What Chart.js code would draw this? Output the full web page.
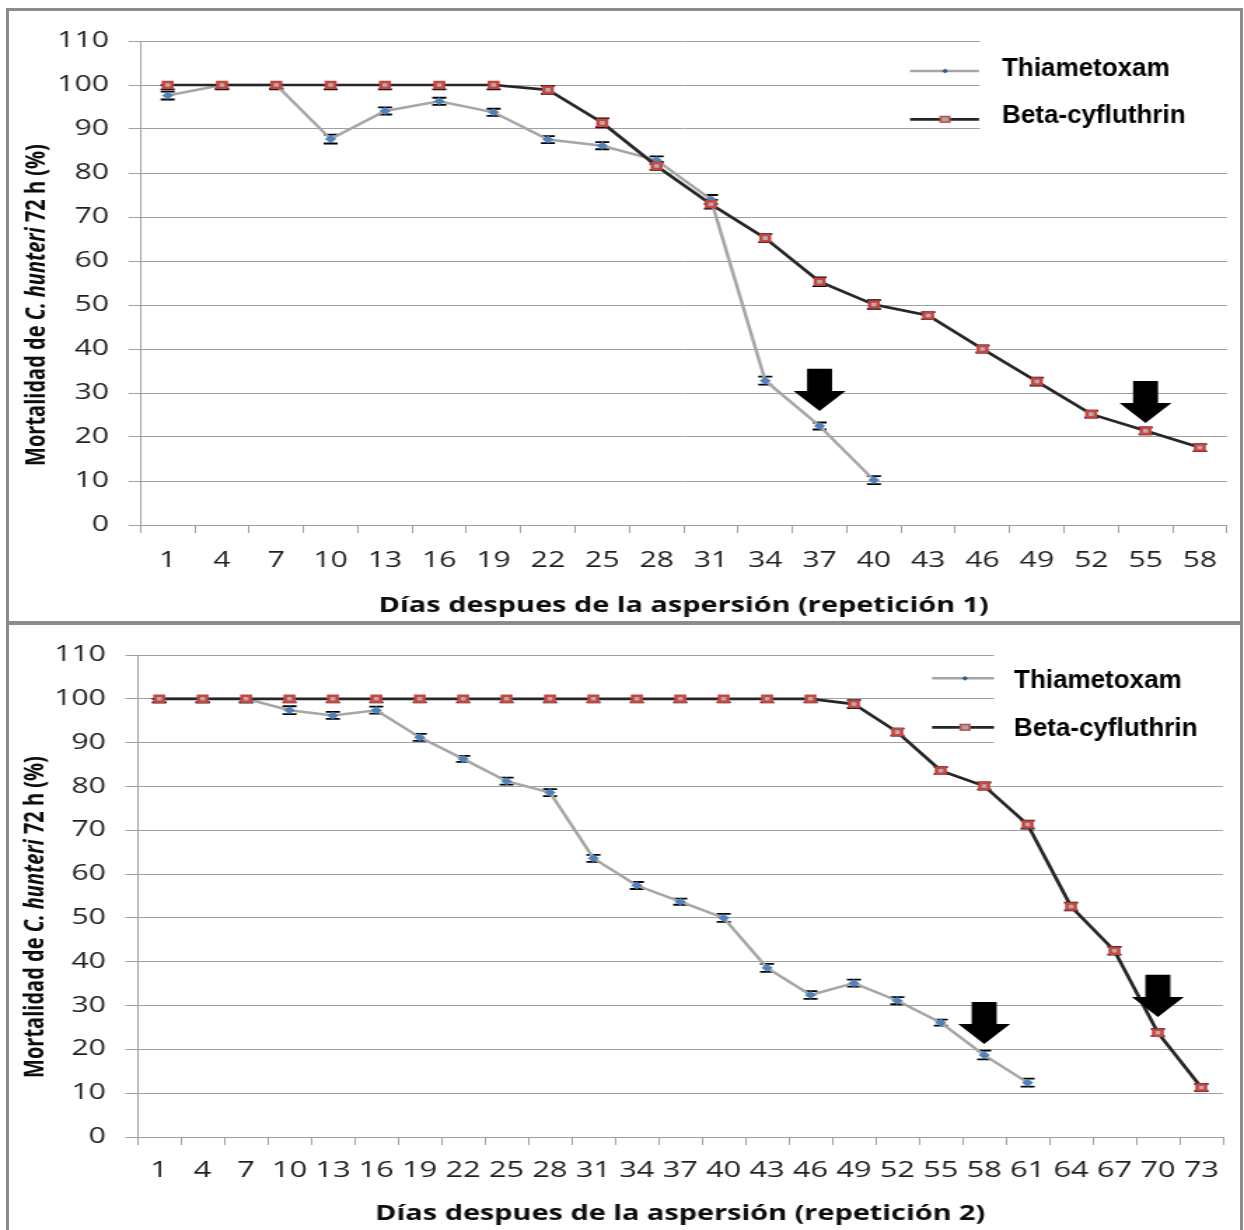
<!DOCTYPE html>
<html>
<head>
<meta charset="utf-8">
<script src="https://cdn.jsdelivr.net/npm/chart.js@4.4.1/dist/chart.umd.min.js"></script>
<style>
html,body{margin:0;padding:0;background:#fff;}
#page{position:relative;width:1244px;height:1230px;overflow:hidden;background:#fff;}
.wrap{position:absolute;left:0;transform-origin:0 0;}
.wrap canvas{display:block;}
.frame{position:absolute;background:#8c8c8c;z-index:5;}
</style>
</head>
<body>
<div id="page">
  <div class="wrap" id="w1" style="top:0px"><canvas id="c1" width="888" height="622"></canvas></div>
  <div class="wrap" id="w2" style="top:622px"><canvas id="c2" width="888" height="608"></canvas></div>
  <div class="frame" style="left:6px;top:8px;width:3px;height:1222px"></div>
  <div class="frame" style="left:6px;top:8px;width:1237px;height:3px"></div>
  <div class="frame" style="left:1240px;top:8px;width:3px;height:1222px"></div>
  <div class="frame" style="left:6px;top:621px;width:1237px;height:4px"></div>
</div>
<script>
// ---------------- data ----------------
const daysRep1 = ['1','4','7','10','13','16','19','22','25','28','31','34','37','40','43','46','49','52','55','58'];
const thiametoxamRep1 = [97.6,100,100,87.7,94.1,96.3,93.8,87.6,86.2,82.9,74.0,32.8,22.5,10.2,null,null,null,null,null,null];
const betaRep1 = [100,100,100,100,100,100,100,98.9,91.4,81.6,72.9,65.2,55.3,50.1,47.6,40.0,32.6,25.2,21.4,17.6];
const thiametoxamErrRep1 = [0.9,0.8,0.8,1.0,0.8,0.8,0.8,0.8,0.8,0.9,1.0,0.9,0.8,0.9,null,null,null,null,null,null];
const betaErrRep1 = [1.0,1.0,1.0,1.0,1.0,1.0,1.0,0.9,1.0,0.9,1.0,0.9,1.0,1.0,0.8,0.8,0.9,0.8,0.8,0.8];

const daysRep2 = ['1','4','7','10','13','16','19','22','25','28','31','34','37','40','43','46','49','52','55','58','61','64','67','70','73'];
const thiametoxamRep2 = [100,100,100,97.4,96.2,97.4,91.2,86.3,81.2,78.6,63.6,57.4,53.7,50.0,38.6,32.4,35.1,31.1,26.1,18.7,12.4,null,null,null,null];
const betaRep2 = [100,100,100,100,100,100,100,100,100,100,100,100,100,100,100,100,98.8,92.4,83.6,80.1,71.3,52.6,42.5,23.8,11.3];
const thiametoxamErrRep2 = [0.8,0.8,0.8,0.9,0.8,0.8,0.8,0.7,0.8,0.8,0.8,0.8,0.7,0.9,0.9,0.9,0.8,0.8,0.7,1.0,0.9,null,null,null,null];
const betaErrRep2 = [0.8,0.8,0.8,0.8,0.8,0.8,0.8,0.8,0.8,0.8,0.8,0.8,0.8,0.8,0.8,0.8,0.9,0.8,0.8,0.8,0.9,0.9,0.9,0.8,0.8];

const yTicks = [0,10,20,30,40,50,60,70,80,90,100,110];

// arrows marking points (category, start value, tip value)
const arrowsRep1 = [{day:'37', from:35.5, to:25.9}, {day:'55', from:32.7, to:23.2}];
const arrowsRep2 = [{day:'58', from:30.8, to:21.2}, {day:'70', from:37.0, to:27.4}];

const seriesNames = ['Thiametoxam', 'Beta-cyfluthrin'];

// ---------------- layout ----------------
const K = 1244 / 888;   // horizontal stretch of the original picture
const ix = px => px / K;

function buildChart(canvasId, wrapId, labels, thia, beta, thiaErr, betaErr, arrows, L) {
  document.getElementById(wrapId).style.transform = 'scaleX(' + K + ')';
  const canvas = document.getElementById(canvasId);
  const W = canvas.width, H = canvas.height;

  const decoPlugin = {
    id: 'deco_' + canvasId,
    beforeDatasetsDraw(chart) {
      const ctx = chart.ctx;
      const ys = chart.scales.y;
      ctx.save();
      ctx.fillStyle = '#fff';
      ctx.fillRect(ix(L.box.x0), L.box.y0, ix(L.box.x1) - ix(L.box.x0), L.box.y1 - L.box.y0);
      ctx.restore();
      ctx.save();
      ctx.strokeStyle = '#000';
      chart.data.datasets.forEach((ds, i) => {
        const meta = chart.getDatasetMeta(i);
        ds.errors.forEach((e, j) => {
          const v = ds.data[j];
          if (v === null || e === null) return;
          const x = meta.data[j].x;
          const yHi = ys.getPixelForValue(Math.min(v + e, 100));
          const yLo = ys.getPixelForValue(v - e);
          const hw = 5;
          ctx.lineWidth = 1;
          ctx.beginPath(); ctx.moveTo(x, yHi); ctx.lineTo(x, yLo); ctx.stroke();
          ctx.lineWidth = 1.8;
          ctx.beginPath();
          ctx.moveTo(x - hw, yHi); ctx.lineTo(x + hw, yHi);
          ctx.moveTo(x - hw, yLo); ctx.lineTo(x + hw, yLo);
          ctx.stroke();
        });
      });
      ctx.restore();
    },
    afterDatasetsDraw(chart) {
      const ctx = chart.ctx;
      const xs = chart.scales.x, ys = chart.scales.y;
      ctx.save();
      ctx.fillStyle = '#000';
      arrows.forEach(a => {
        const x = xs.getPixelForValue(labels.indexOf(a.day));
        const y0 = ys.getPixelForValue(a.from);
        const y1 = ys.getPixelForValue(a.to);
        const headH = 20, sw = ix(12.5), hw = ix(26);
        ctx.beginPath();
        ctx.moveTo(x - sw, y0);
        ctx.lineTo(x + sw, y0);
        ctx.lineTo(x + sw, y1 - headH);
        ctx.lineTo(x + hw, y1 - headH);
        ctx.lineTo(x, y1);
        ctx.lineTo(x - hw, y1 - headH);
        ctx.lineTo(x - sw, y1 - headH);
        ctx.closePath();
        ctx.fill();
      });
      ctx.restore();
    },
    afterDraw(chart) {
      const ctx = chart.ctx;
      const items = [
        {name: seriesNames[0], y: L.leg.y1, base: L.leg.b1, color: '#a6a6a6', lw: 2.5, marker: 'diamond'},
        {name: seriesNames[1], y: L.leg.y2, base: L.leg.b2, color: '#262626', lw: 2.7, marker: 'square'}
      ];
      items.forEach(it => {
        ctx.save();
        ctx.strokeStyle = it.color; ctx.lineWidth = it.lw;
        ctx.beginPath(); ctx.moveTo(ix(L.leg.x0), it.y); ctx.lineTo(ix(L.leg.x1), it.y); ctx.stroke();
        const mx = ix(L.leg.mx);
        if (it.marker === 'diamond') {
          ctx.fillStyle = '#2f5b8f';
          ctx.beginPath();
          ctx.moveTo(mx - 2.2, it.y); ctx.lineTo(mx, it.y - 2.4); ctx.lineTo(mx + 2.2, it.y); ctx.lineTo(mx, it.y + 2.4);
          ctx.closePath(); ctx.fill();
        } else {
          ctx.fillStyle = '#a6a6a6';
          ctx.strokeStyle = '#c0504d'; ctx.lineWidth = 1.6;
          ctx.fillRect(mx - 3.2, it.y - 2.8, 6.4, 5.6);
          ctx.strokeRect(mx - 3.2, it.y - 2.8, 6.4, 5.6);
        }
        ctx.translate(ix(L.leg.tx), it.base);
        ctx.scale(1 / K, 1);
        ctx.font = 'bold 26px "Liberation Sans", Arial, sans-serif';
        ctx.fillStyle = '#000';
        ctx.textBaseline = 'alphabetic';
        ctx.textAlign = 'left';
        ctx.fillText(it.name, 0, 0);
        ctx.restore();
      });
      ctx.save();
      ctx.translate(ix(L.yTitle.x), L.yTitle.y);
      ctx.rotate(-Math.PI / 2);
      ctx.textBaseline = 'middle';
      ctx.textAlign = 'left';
      ctx.fillStyle = '#0d0d0d';
      const parts = [['Mortalidad de ', false], ['C. hunteri', true], [' 72 h (%)', false]];
      const fontOf = it => (it ? 'italic ' : '') + 'bold 20px "Open Sans", sans-serif';
      let total = 0;
      parts.forEach(p => { ctx.font = fontOf(p[1]); total += ctx.measureText(p[0]).width; });
      let x = -total / 2;
      parts.forEach(p => { ctx.font = fontOf(p[1]); ctx.fillText(p[0], x, 0); x += ctx.measureText(p[0]).width; });
      ctx.restore();
    }
  };

  return new Chart(canvas, {
    type: 'line',
    data: {
      labels: labels,
      datasets: [
        {
          label: seriesNames[0], data: thia, errors: thiaErr, order: 1,
          borderColor: '#a6a6a6', borderWidth: 2.5, tension: 0, spanGaps: false,
          pointStyle: 'rectRot', pointRadius: 3.8, pointBackgroundColor: '#4f81bd',
          pointBorderColor: '#4f81bd', pointBorderWidth: 0.5
        },
        {
          label: seriesNames[1], data: beta, errors: betaErr, order: 0,
          borderColor: '#262626', borderWidth: 2.7, tension: 0,
          pointStyle: 'rect', pointRadius: 4.3, pointBackgroundColor: '#b0b0b0',
          pointBorderColor: '#c9433f', pointBorderWidth: 2.5
        }
      ]
    },
    options: {
      responsive: false,
      animation: false,
      events: [],
      layout: {padding: {left: 0, right: W - ix(L.plotRight), top: L.plotTop, bottom: 0}},
      plugins: {legend: {display: false}, tooltip: {enabled: false}},
      scales: {
        x: {
          type: 'category', offset: true,
          grid: {offset: true, drawOnChartArea: false, drawTicks: true, tickLength: 8, color: '#a0a0a0', lineWidth: 1},
          border: {display: true, color: '#a0a0a0', width: 1},
          ticks: {font: {family: 'Open Sans', size: L.xFont}, color: '#1f1f1f', padding: L.xPad, maxRotation: 0, minRotation: 0, autoSkip: false},
          title: {display: true, text: L.xTitle, color: '#0d0d0d', font: {family: 'Open Sans', size: 20.6, weight: 'bold'}, padding: {top: 0, bottom: 4}},
          afterFit(s) { s.height = H - L.plotBottom; }
        },
        y: {
          min: 0, max: 110,
          afterBuildTicks(s) { s.ticks = yTicks.map(v => ({value: v})); },
          grid: {color: '#a0a0a0', lineWidth: 1, drawTicks: true, tickLength: ix(12)},
          border: {display: true, color: '#a0a0a0', width: 1},
          ticks: {font: {family: 'Open Sans', size: 21.5}, color: '#1f1f1f', padding: 14},
          afterFit(s) { s.width = ix(L.plotLeft); }
        }
      }
    },
    plugins: [decoPlugin]
  });
}

buildChart('c1', 'w1', daysRep1, thiametoxamRep1, betaRep1, thiametoxamErrRep1, betaErrRep1, arrowsRep1, {
  plotLeft: 140.5, plotRight: 1227, plotTop: 41, plotBottom: 525,
  xFont: 21.5, xPad: 15,
  xTitle: 'Días despues de la aspersión (repetición 1)',
  box: {x0: 980, x1: 1232, y0: 30, y1: 150},
  leg: {x0: 910, x1: 979, mx: 945, tx: 1002, y1: 71, y2: 119.3, b1: 75.5, b2: 123},
  yTitle: {x: 37, y: 305}
});

buildChart('c2', 'w2', daysRep2, thiametoxamRep2, betaRep2, thiametoxamErrRep2, betaErrRep2, arrowsRep2, {
  plotLeft: 137.5, plotRight: 1223, plotTop: 33, plotBottom: 515,
  xFont: 22, xPad: 13,
  xTitle: 'Días despues de la aspersión (repetición 2)',
  box: {x0: 994, x1: 1232, y0: 25, y1: 143},
  leg: {x0: 932, x1: 994, mx: 965, tx: 1014, y1: 56.3, y2: 105.3, b1: 66, b2: 114},
  yTitle: {x: 35, y: 295}
});
</script>
</body>
</html>
